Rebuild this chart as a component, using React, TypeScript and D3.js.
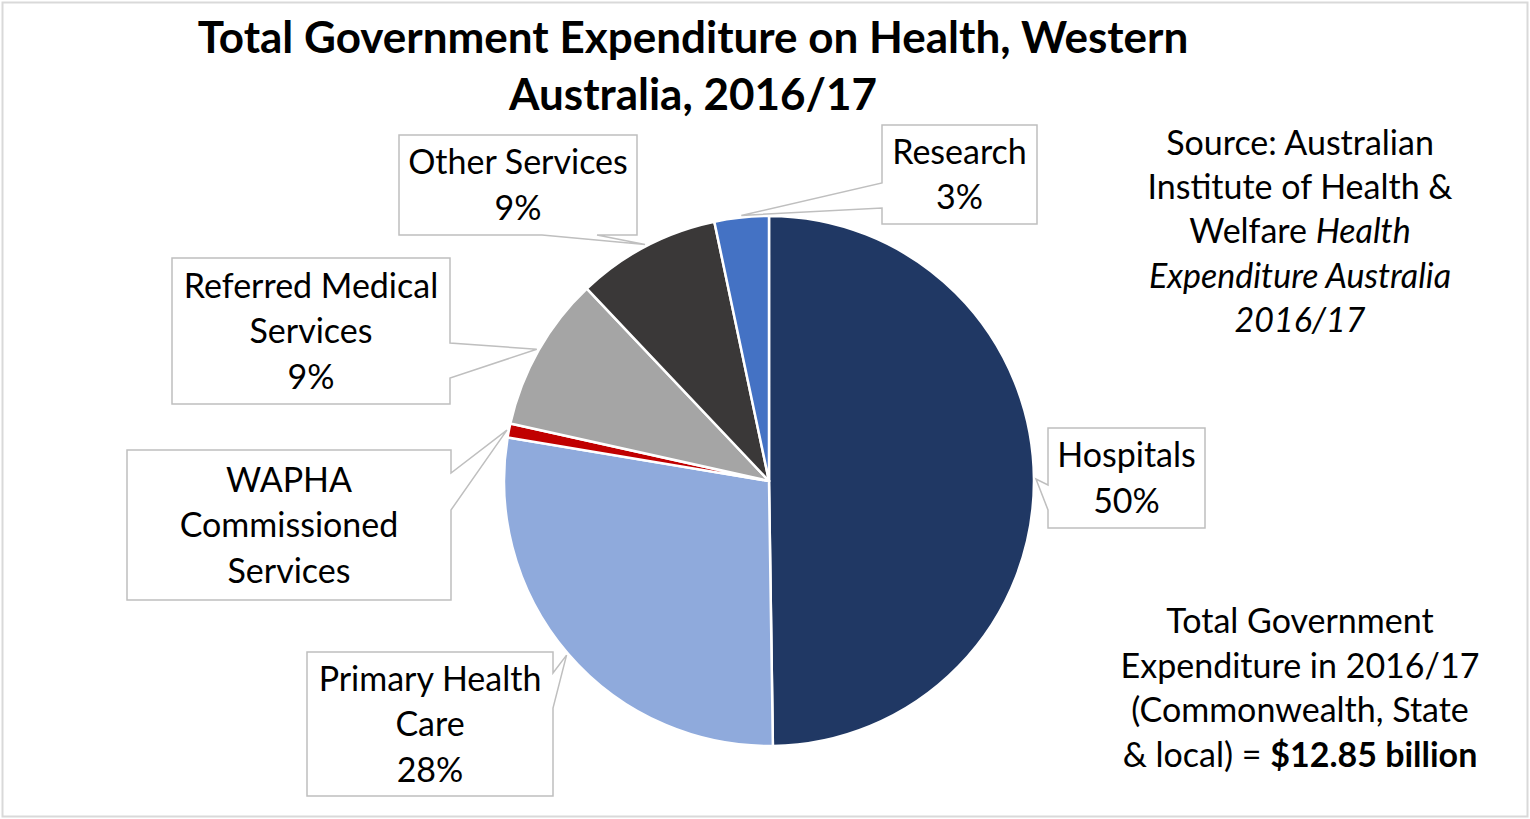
import * as d3 from 'd3';
import { useEffect, useRef } from 'react';

// Spending by area, $m (total $12.85b)
const categories = [
  'Hospitals',
  'Primary Health Care',
  'WAPHA Commissioned Services',
  'Referred Medical Services',
  'Other Services',
  'Research',
];
const values = [6395, 3580, 110, 1215, 1125, 425];
const colors = ['#203864', '#8faadc', '#c00000', '#a5a5a5', '#3a3838', '#4472c4'];

// text lines inside each callout (percent is appended when shown)
const labelLines = [
  ['Hospitals'],
  ['Primary Health', 'Care'],
  ['WAPHA', 'Commissioned', 'Services'],
  ['Referred Medical', 'Services'],
  ['Other Services'],
  ['Research'],
];
const showPct = [true, true, false, true, true, true];

const titleLines = ['Total Government Expenditure on Health, Western', 'Australia, 2016/17'];

const WIDTH = 1530;
const HEIGHT = 819;
const FONT = 'Lato, "Open Sans", sans-serif';
const BODY_SIZE = 34;

type Callout = { box: [number, number, number, number]; side: 'left' | 'right' | 'bottom'; attach: [number, number] };

// callout box placement, same order as categories
const callouts: Callout[] = [
  { box: [1048, 428, 1205, 528], side: 'left', attach: [485, 510] },
  { box: [307, 652, 553, 796], side: 'right', attach: [673, 708] },
  { box: [127, 450, 451, 600], side: 'right', attach: [473, 510] },
  { box: [172, 258, 450, 404], side: 'right', attach: [343, 378] },
  { box: [399, 135, 637, 235], side: 'bottom', attach: [542, 597] },
  { box: [882, 125, 1037, 224], side: 'left', attach: [183, 208] },
];

function calloutPath(c: Callout, tip: [number, number]) {
  const [x0, y0, x1, y1] = c.box;
  const [a, b] = c.attach;
  const [tx, ty] = tip;
  let p = `M${x0},${y0} H${x1}`;
  if (c.side === 'right') p += ` V${a} L${tx},${ty} L${x1},${b}`;
  p += ` V${y1}`;
  if (c.side === 'bottom') p += ` H${b} L${tx},${ty} L${a},${y1}`;
  p += ` H${x0}`;
  if (c.side === 'left') p += ` V${b} L${tx},${ty} L${x0},${a}`;
  p += ' Z';
  return p;
}

export default function App() {
  const svgRef = useRef<SVGSVGElement>(null);

  useEffect(() => {
    document.body.style.margin = '0';
    const svg = d3.select(svgRef.current);
    svg.selectAll('*').remove();

    // chart frame
    svg
      .append('rect')
      .attr('x', 2.5)
      .attr('y', 2.5)
      .attr('width', WIDTH - 5)
      .attr('height', HEIGHT - 5)
      .attr('fill', '#fff')
      .attr('stroke', '#d9d9d9')
      .attr('stroke-width', 2);

    // title
    const title = svg
      .append('text')
      .attr('text-anchor', 'middle')
      .attr('font-family', FONT)
      .attr('font-weight', 700)
      .attr('font-size', 44)
      .attr('fill', '#000');
    titleLines.forEach((t, i) => {
      title
        .append('tspan')
        .attr('x', 693)
        .attr('y', 53 + i * 57)
        .text(t);
    });

    const cx = 769;
    const cy = 481;
    const r = 265;
    const total = d3.sum(values);

    const pie = d3
      .pie<number>()
      .sort(null)
      .value((d) => d)
      .startAngle(0)
      .endAngle(2 * Math.PI);
    const arcs = pie(values);
    const arc = d3.arc<d3.PieArcDatum<number>>().innerRadius(0).outerRadius(r);
    const tipArc = d3.arc<d3.PieArcDatum<number>>().innerRadius(r + 2).outerRadius(r + 2);

    const g = svg.append('g').attr('transform', `translate(${cx},${cy})`);
    g.selectAll('path.slice')
      .data(arcs)
      .join('path')
      .attr('class', 'slice')
      .attr('d', arc)
      .attr('fill', (_, i) => colors[i])
      .attr('stroke', '#fff')
      .attr('stroke-width', 2.5)
      .attr('stroke-linejoin', 'round');

    // callouts
    arcs.forEach((d, i) => {
      const c = callouts[i];
      const [px, py] = tipArc.centroid(d);
      svg
        .append('path')
        .attr('d', calloutPath(c, [cx + px, cy + py]))
        .attr('fill', '#fff')
        .attr('stroke', '#bfbfbf')
        .attr('stroke-width', 1.5);

      const lines = [...labelLines[i]];
      if (showPct[i]) lines.push(`${Math.round((values[i] / total) * 100)}%`);
      const bx = (c.box[0] + c.box[2]) / 2;
      const by = (c.box[1] + c.box[3]) / 2;
      const txt = svg
        .append('text')
        .attr('text-anchor', 'middle')
        .attr('font-family', FONT)
        .attr('font-size', BODY_SIZE)
        .attr('fill', '#000');
      lines.forEach((l, j) => {
        txt
          .append('tspan')
          .attr('x', bx)
          .attr('y', by + 12 + (j - (lines.length - 1) / 2) * 45.5)
          .text(l);
      });
    });

    // source note
    const src = svg
      .append('text')
      .attr('text-anchor', 'middle')
      .attr('font-family', FONT)
      .attr('font-size', BODY_SIZE)
      .attr('fill', '#000');
    src.append('tspan').attr('x', 1300).attr('y', 155).text('Source: Australian');
    src.append('tspan').attr('x', 1300).attr('y', 199).text('Institute of Health &');
    const l3 = src.append('tspan').attr('x', 1300).attr('y', 243);
    l3.append('tspan').text('Welfare ');
    l3.append('tspan').attr('font-style', 'italic').text('Health');
    src.append('tspan').attr('x', 1300).attr('y', 288).attr('font-style', 'italic').text('Expenditure Australia');
    src.append('tspan').attr('x', 1300).attr('y', 332).attr('font-style', 'italic').text('2016/17');

    // total note
    const tot = svg
      .append('text')
      .attr('text-anchor', 'middle')
      .attr('font-family', FONT)
      .attr('font-size', BODY_SIZE)
      .attr('fill', '#000');
    tot.append('tspan').attr('x', 1300).attr('y', 633).text('Total Government');
    tot.append('tspan').attr('x', 1300).attr('y', 678).text('Expenditure in 2016/17');
    tot.append('tspan').attr('x', 1300).attr('y', 722).text('(Commonwealth, State');
    const l4 = tot.append('tspan').attr('x', 1300).attr('y', 767);
    l4.append('tspan').text('& local) = ');
    l4.append('tspan').attr('font-weight', 700).text(`$${(total / 1000).toFixed(2)} billion`);
  }, []);

  return <svg ref={svgRef} width={WIDTH} height={HEIGHT} style={{ display: 'block' }} />;
}
